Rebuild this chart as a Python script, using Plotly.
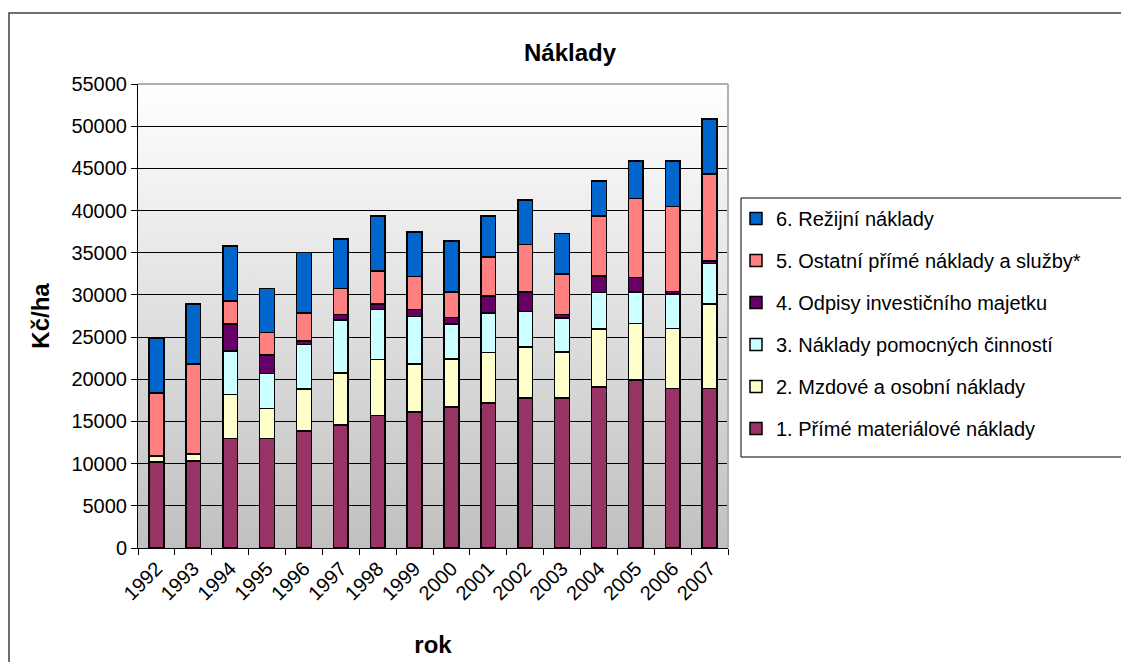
import base64
import plotly.graph_objects as go

# Naklady (Kc/ha) po letech, slozky nakladu
years = [str(y) for y in range(1992, 2008)]
material = [10200, 10300, 13000, 13000, 13850, 14600, 15700, 16100, 16700, 17200, 17800, 17800, 19100, 19900, 18900, 18900]
mzdove = [700, 850, 5200, 3550, 5000, 6150, 6650, 5700, 5700, 6000, 6050, 5450, 6850, 6700, 7100, 10050]
pomocne = [0, 0, 5150, 4150, 5250, 6300, 5900, 5650, 4150, 4650, 4200, 4000, 4350, 3750, 4100, 4750]
odpisy = [0, 0, 3200, 2150, 450, 600, 700, 850, 750, 2050, 2300, 450, 1950, 1700, 300, 300]
ostatni = [7500, 10650, 2750, 2700, 3300, 3100, 3900, 3900, 3050, 4600, 5650, 4750, 7100, 9400, 10100, 10350]
rezijni = [6500, 7100, 6500, 5200, 7150, 5900, 6500, 5250, 6050, 4850, 5250, 4850, 4150, 4400, 5350, 6500]

series = [
    ('1. Přímé materiálové náklady', material, '#993366'),
    ('2. Mzdové a osobní náklady', mzdove, '#FFFFCC'),
    ('3. Náklady pomocných činností', pomocne, '#CCFFFF'),
    ('4. Odpisy investičního majetku', odpisy, '#660066'),
    ('5. Ostatní přímé náklady a služby*', ostatni, '#FF8080'),
    ('6. Režijní náklady', rezijni, '#0066CC'),
]

FONT = 'Liberation Sans, Arial, sans-serif'

fig = go.Figure()
for i, (name, vals, col) in enumerate(series):
    # legend shows the top segment first
    fig.add_trace(go.Bar(x=years, y=vals, name=name, legendgroup=str(i), legendrank=100 - i,
                         marker=dict(color=col, line=dict(color='black', width=1.5))))

# gray gradient behind the plot area
svg = ('<svg xmlns="http://www.w3.org/2000/svg" width="100" height="100" preserveAspectRatio="none">'
       '<defs><linearGradient id="g" x1="0" y1="0" x2="0" y2="1">'
       '<stop offset="0" stop-color="#ffffff"/><stop offset="1" stop-color="#c0c0c0"/>'
       '</linearGradient></defs><rect width="100" height="100" fill="url(#g)"/></svg>')
src = 'data:image/svg+xml;base64,' + base64.b64encode(svg.encode()).decode()

W, H = 1121, 662
L, R, T, B = 138, 393, 84, 114
pw, ph = W - L - R, H - T - B


def px(xp):
    return (xp - L) / pw


def py(yp):
    return (H - B - yp) / ph


fig.update_layout(
    width=W, height=H,
    margin=dict(l=L, r=R, t=T, b=B),
    barmode='stack', bargap=0.6,
    paper_bgcolor='white', plot_bgcolor='rgba(0,0,0,0)',
    font=dict(family=FONT, size=20, color='black'),
    title=dict(text='<b>Náklady</b>', xref='container', x=570 / W, xanchor='center',
               yref='container', y=1 - 53 / H, yanchor='middle', font=dict(size=24)),
    images=[dict(source=src, xref='paper', yref='paper', x=0, y=1, sizex=1, sizey=1,
                 xanchor='left', yanchor='top', sizing='stretch', layer='below')],
    legend=dict(traceorder='grouped', tracegroupgap=13, x=px(736), xanchor='left',
                y=py(199), yanchor='top', bgcolor='rgba(0,0,0,0)', borderwidth=0,
                font=dict(size=20)),
    shapes=[
        dict(type='rect', xref='paper', yref='paper', x0=px(9), y0=-1, x1=3, y1=py(13),
             line=dict(color='#404040', width=1.5), layer='below'),
        dict(type='rect', xref='paper', yref='paper', x0=px(741), y0=py(457), x1=3, y1=py(198),
             line=dict(color='black', width=1), layer='above'),
        dict(type='line', xref='paper', yref='paper', x0=0, y0=1, x1=1, y1=1,
             line=dict(color='#b0b0b0', width=2), layer='above'),
        dict(type='line', xref='paper', yref='paper', x0=1, y0=0, x1=1, y1=1,
             line=dict(color='#b0b0b0', width=2), layer='above'),
    ],
)

fig.update_yaxes(range=[0, 55000], dtick=5000, tickformat='d', showgrid=True,
                 gridcolor='#000000', gridwidth=1, showline=True, linecolor='black',
                 linewidth=1, ticks='outside', ticklen=6, tickcolor='black',
                 zeroline=False, tickfont=dict(size=20), automargin=False,
                 title=dict(text='<b>Kč/ha</b>', font=dict(size=24), standoff=14))
fig.update_xaxes(tickangle=-45, showline=True, linecolor='black', linewidth=1,
                 ticks='outside', ticklen=6, tickcolor='black', tickson='boundaries',
                 showgrid=False, tickfont=dict(size=20), automargin=False,
                 title=dict(text='<b>rok</b>', font=dict(size=24), standoff=32))

fig.write_html('out.html', config={'displayModeBar': False},
               post_script="document.body.style.margin='0';")
